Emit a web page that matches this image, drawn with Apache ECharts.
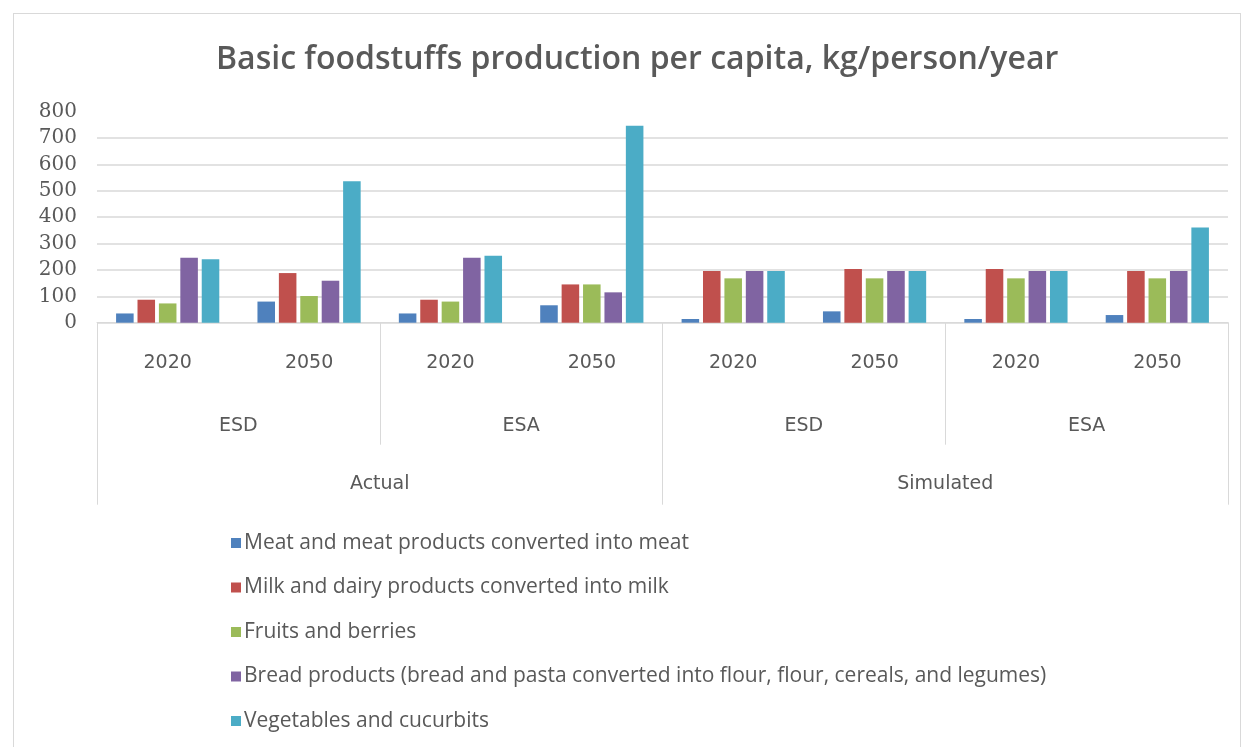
<!DOCTYPE html>
<html>
<head>
<meta charset="utf-8">
<script src="https://cdn.jsdelivr.net/npm/echarts@6/dist/echarts.min.js"></script>
<style>
  html, body { margin: 0; padding: 0; background: #ffffff; }
  #frame { position: absolute; left: 13px; top: 13px; width: 1226px; height: 760px; border: 1px solid #d9d9d9; }
  #chart { position: absolute; left: 0; top: 0; width: 1246px; height: 747px; }
</style>
</head>
<body>
<div id="frame"></div>
<div id="chart"></div>
<script>
const titleText = 'Basic foodstuffs production per capita, kg/person/year';
const years = ['2020', '2050', '2020', '2050', '2020', '2050', '2020', '2050'];
const scenarios = ['ESD', 'ESA', 'ESD', 'ESA'];
const modes = ['Actual', 'Simulated'];
const seriesNames = [
  'Meat and meat products converted into meat',
  'Milk and dairy products converted into milk',
  'Fruits and berries',
  'Bread products (bread and pasta converted into flour, flour, cereals, and legumes)',
  'Vegetables and cucurbits'
];
const meat   = [35, 80, 35, 66, 14, 43, 14, 29];
const milk   = [87, 188, 87, 145, 196, 203, 203, 196];
const fruits = [73, 101, 80, 145, 168, 168, 168, 168];
const bread  = [246, 159, 246, 115, 196, 196, 196, 196];
const veg    = [240, 536, 254, 746, 196, 196, 196, 361];
const yTicks = [0, 800, 100];
const colors = ['#4f81bd', '#c0504d', '#9bbb59', '#8064a2', '#4bacc6'];

const allValues = [meat, milk, fruits, bread, veg];
const chart = echarts.init(document.getElementById('chart'), null, { renderer: 'canvas' });
const gray = '#595959';
const lineGray = '#d9d9d9';
const labelFont = "'DejaVu Sans', sans-serif";

const option = {
  animation: false,
  color: colors,
  title: {
    text: titleText,
    left: 211,
    top: 39,
    textStyle: { fontFamily: "'Open Sans', sans-serif", fontSize: 32, fontWeight: 600, color: gray }
  },
  legend: {
    orient: 'vertical',
    left: 226,
    top: 527,
    itemWidth: 10,
    itemHeight: 10,
    itemGap: 22.5,
    icon: 'rect',
    data: seriesNames,
    textStyle: { fontFamily: "'Open Sans', sans-serif", fontSize: 21, color: gray, lineHeight: 22, padding: [0, 0, 0, -2] }
  },
  grid: { left: 97, right: 18, top: 111.5, bottom: 424.3, containLabel: false },
  xAxis: [
    {
      type: 'category',
      data: years,
      position: 'bottom',
      axisLine: { show: true, lineStyle: { color: lineGray, width: 1 } },
      axisTick: { show: false },
      axisLabel: { interval: 0, margin: 31, fontFamily: labelFont, fontSize: 19, color: gray }
    },
    {
      type: 'category',
      data: scenarios,
      position: 'bottom',
      axisLine: { show: false },
      axisTick: { show: true, interval: 0, length: 122, lineStyle: { color: lineGray, width: 1 } },
      axisLabel: { interval: 0, margin: 94, fontFamily: labelFont, fontSize: 19, color: gray }
    },
    {
      type: 'category',
      data: modes,
      position: 'bottom',
      axisLine: { show: false },
      axisTick: { show: true, interval: 0, length: 182, lineStyle: { color: lineGray, width: 1 } },
      axisLabel: { interval: 0, margin: 152, fontFamily: labelFont, fontSize: 19, color: gray }
    }
  ],
  yAxis: {
    type: 'value',
    min: yTicks[0],
    max: yTicks[1],
    interval: yTicks[2],
    axisLine: { show: false },
    axisTick: { show: false },
    splitLine: { show: true, showMaxLine: false, lineStyle: { color: lineGray, width: 1.5 } },
    axisLabel: { margin: 20, fontFamily: "'DejaVu Serif', serif", fontSize: 20, color: gray }
  },
  series: seriesNames.map((name, i) => ({
    name: name,
    type: 'bar',
    xAxisIndex: 0,
    data: allValues[i],
    barCategoryGap: '27%',
    barGap: '22%',
    itemStyle: { color: colors[i] }
  }))
};
chart.setOption(option);
</script>
</body>
</html>
